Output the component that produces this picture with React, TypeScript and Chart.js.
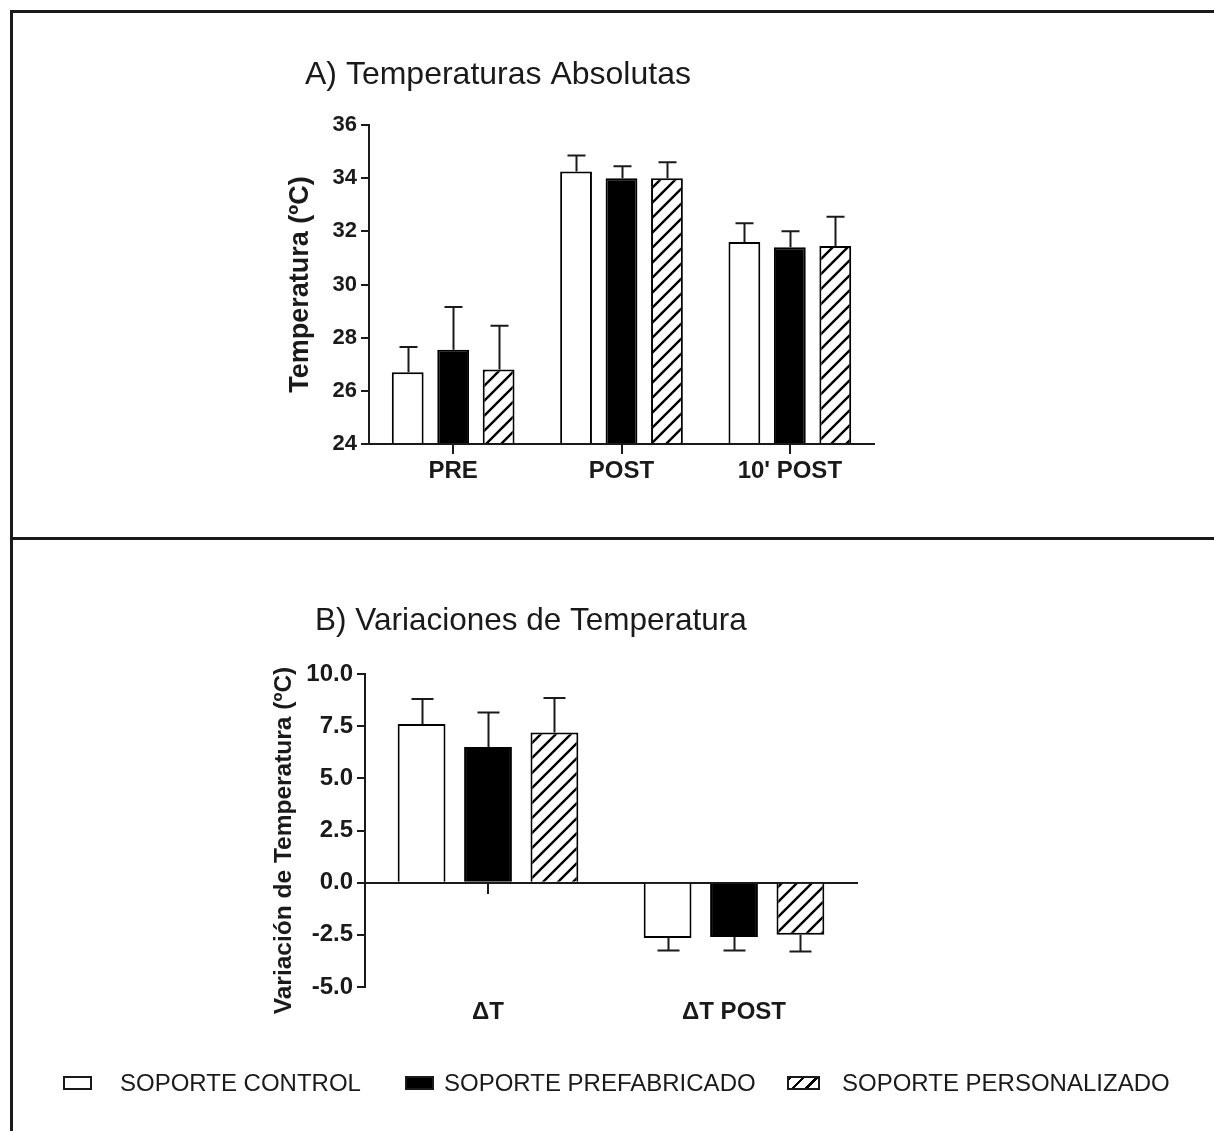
import React, { useEffect, useRef } from "react";
import { Chart, registerables } from "chart.js";
Chart.register(...registerables);

// ---------- Data ----------
const groupsA = ["PRE", "POST", "10' POST"];
const controlA = [26.7, 34.25, 31.6];
const controlA_sd = [0.95, 0.6, 0.7];
const prefabA = [27.55, 34.0, 31.4];
const prefabA_sd = [1.6, 0.45, 0.6];
const personalA = [26.8, 34.0, 31.45];
const personalA_sd = [1.65, 0.6, 1.1];
const yMinA = 24;
const yMaxA = 36;
const yStepA = 2;

const groupsB = ["\u0394T", "\u0394T POST"];
const controlB = [7.6, -2.65];
const controlB_sd = [1.2, 0.6];
const prefabB = [6.5, -2.6];
const prefabB_sd = [1.65, 0.65];
const personalB = [7.2, -2.5];
const personalB_sd = [1.65, 0.8];
const yMinB = -5;
const yMaxB = 10;
const yStepB = 2.5;

const seriesNames = ["SOPORTE CONTROL", "SOPORTE PREFABRICADO", "SOPORTE PERSONALIZADO"];

const titleA = "A) Temperaturas Absolutas";
const titleB = "B) Variaciones de Temperatura";
const yTitleA = "Temperatura (\u00BAC)";
const yTitleB = "Variaci\u00F3n de Temperatura (\u00BAC)";

// ---------- Styles ----------
const FONT = "Arial, 'Liberation Sans', Helvetica, sans-serif";
const INK = "#1a1a1a";

function makeHatch(): CanvasPattern | string {
  const s = 15;
  const c = document.createElement("canvas");
  c.width = s;
  c.height = s;
  const g = c.getContext("2d");
  if (!g) return "#fff";
  g.fillStyle = "#fff";
  g.fillRect(0, 0, s, s);
  g.strokeStyle = "#000";
  g.lineWidth = 2.4;
  g.beginPath();
  g.moveTo(-1, s + 1);
  g.lineTo(s + 1, -1);
  g.moveTo(-3, 3);
  g.lineTo(3, -3);
  g.moveTo(s - 3, s + 3);
  g.lineTo(s + 3, s - 3);
  g.stroke();
  const p = g.createPattern(c, "repeat");
  return p || "#fff";
}

const errorBarPlugin = {
  id: "errorBars",
  afterDatasetsDraw(chart: any, _args: any, opts: any) {
    const sds: number[][] = opts.sds || [];
    const ctx = chart.ctx;
    const yScale = chart.scales.y;
    ctx.save();
    ctx.strokeStyle = INK;
    ctx.lineWidth = 2;
    chart.data.datasets.forEach((ds: any, i: number) => {
      const meta = chart.getDatasetMeta(i);
      meta.data.forEach((el: any, j: number) => {
        const v = ds.data[j];
        const sd = (sds[i] || [])[j] || 0;
        const end = v >= 0 ? v + sd : v - sd;
        const y1 = yScale.getPixelForValue(v);
        const y2 = yScale.getPixelForValue(end);
        const x = Math.round(el.x) + 0.5;
        const cap = opts.cap || 10;
        ctx.beginPath();
        ctx.moveTo(x, y1);
        ctx.lineTo(x, y2);
        ctx.moveTo(x - cap, y2);
        ctx.lineTo(x + cap, y2);
        ctx.stroke();
      });
    });
    ctx.restore();
  },
};

const textPlugin = {
  id: "freeText",
  afterDraw(chart: any, _args: any, opts: any) {
    const ctx = chart.ctx;
    const area = chart.chartArea;
    (opts.items || []).forEach((it: any) => {
      ctx.save();
      ctx.fillStyle = INK;
      ctx.font = it.font;
      if (it.rotate) {
        const cy = (area.top + area.bottom) / 2 + (it.dy || 0);
        ctx.translate(it.x, cy);
        ctx.rotate(-Math.PI / 2);
        ctx.textAlign = "center";
        ctx.textBaseline = "middle";
        ctx.fillText(it.text, 0, 0);
      } else {
        ctx.textAlign = "left";
        ctx.textBaseline = "alphabetic";
        ctx.fillText(it.text, it.x, it.y);
      }
      ctx.restore();
    });
  },
};

function barDatasets(a: number[], b: number[], c: number[], hatch: any, barPct: number) {
  const common = {
    borderColor: "#000",
    borderWidth: 2,
    borderSkipped: "start",
    categoryPercentage: 0.81,
    barPercentage: barPct,
  };
  return [
    { label: seriesNames[0], data: a, backgroundColor: "#fff", ...common },
    { label: seriesNames[1], data: b, backgroundColor: "#000", ...common },
    { label: seriesNames[2], data: c, backgroundColor: hatch, ...common },
  ];
}

function ChartA() {
  const ref = useRef<HTMLCanvasElement>(null);
  useEffect(() => {
    if (!ref.current) return;
    const hatch = makeHatch();
    const datasets = barDatasets(controlA, prefabA, personalA, hatch, 0.7).map((d) => ({ ...d, base: yMinA }));
    const chart = new Chart(ref.current, {
      type: "bar",
      data: { labels: groupsA, datasets: datasets as any },
      plugins: [errorBarPlugin, textPlugin],
      options: {
        responsive: false,
        animation: false,
        devicePixelRatio: 1,
        layout: { padding: { left: 289, right: 340, top: 125, bottom: 48 } },
        plugins: {
          legend: { display: false },
          tooltip: { enabled: false },
          title: { display: false },
          errorBars: { sds: [controlA_sd, prefabA_sd, personalA_sd], cap: 9 },
          freeText: {
            items: [
              { text: titleA, x: 305, y: 84, font: `32px ${FONT}` },
              { text: yTitleA, x: 301, rotate: true, font: `bold 27px ${FONT}` },
            ],
          },
        } as any,
        scales: {
          x: {
            z: 1,
            offset: true,
            grid: { display: true, drawOnChartArea: false, offset: false, tickLength: 10, color: INK, lineWidth: 2 },
            border: { display: true, color: INK, width: 2 },
            ticks: { color: INK, padding: 3, font: { family: FONT, size: 24, weight: "bold" } },
            afterFit: (s: any) => { s.height = 45; },
          },
          y: {
            min: yMinA,
            max: yMaxA,
            ticks: { stepSize: yStepA, color: INK, padding: 4, font: { family: FONT, size: 22, weight: "bold" } },
            grid: { display: true, drawOnChartArea: false, tickLength: 8, color: INK, lineWidth: 2 },
            border: { display: true, color: INK, width: 2 },
            afterFit: (s: any) => { s.width = 80; },
          },
        } as any,
      },
    });
    return () => chart.destroy();
  }, []);
  return <canvas ref={ref} width={1214} height={537} style={{ position: "absolute", left: 0, top: 0, width: 1214, height: 537 }} />;
}

function ChartB() {
  const ref = useRef<HTMLCanvasElement>(null);
  useEffect(() => {
    if (!ref.current) return;
    const hatch = makeHatch();
    const datasets = barDatasets(controlB, prefabB, personalB, hatch, 0.72);
    const chart = new Chart(ref.current, {
      type: "bar",
      data: { labels: groupsB, datasets: datasets as any },
      plugins: [errorBarPlugin, textPlugin],
      options: {
        responsive: false,
        animation: false,
        devicePixelRatio: 1,
        layout: { padding: { left: 285, right: 357, top: 134, bottom: 99 } },
        plugins: {
          legend: { display: false },
          tooltip: { enabled: false },
          title: { display: false },
          errorBars: { sds: [controlB_sd, prefabB_sd, personalB_sd], cap: 11 },
          freeText: {
            items: [
              { text: titleB, x: 315, y: 90, font: `31.5px ${FONT}` },
              { text: yTitleB, x: 284, rotate: true, dy: 10, font: `bold 24.5px ${FONT}` },
            ],
          },
        } as any,
        scales: {
          x: {
            offset: true,
            grid: { display: false },
            border: { display: false },
            ticks: { color: INK, padding: 3, font: { family: FONT, size: 24, weight: "bold" } },
            afterFit: (s: any) => { s.height = 45; },
          },
          x2: {
            type: "category",
            axis: "x",
            z: 1,
            position: { y: 0 },
            offset: true,
            grid: { display: true, drawOnChartArea: false, offset: false, tickLength: 10, color: INK, lineWidth: 2 },
            border: { display: true, color: INK, width: 2 },
            ticks: { display: false },
          },
          y: {
            min: yMinB,
            max: yMaxB,
            ticks: {
              stepSize: yStepB,
              color: INK,
              padding: 4,
              font: { family: FONT, size: 24, weight: "bold" },
              callback: (v: any) => Number(v).toFixed(1),
            },
            grid: { display: true, drawOnChartArea: false, tickLength: 8, color: INK, lineWidth: 2 },
            border: { display: true, color: INK, width: 2 },
            afterFit: (s: any) => { s.width = 80; },
          },
        } as any,
      },
    });
    return () => chart.destroy();
  }, []);
  return <canvas ref={ref} width={1214} height={591} style={{ position: "absolute", left: 0, top: 540, width: 1214, height: 591 }} />;
}

function Legend() {
  const txt: React.CSSProperties = {
    position: "absolute",
    top: 1071,
    fontFamily: FONT,
    fontSize: 24,
    lineHeight: "24px",
    color: INK,
    whiteSpace: "nowrap",
  };
  const box: React.CSSProperties = { position: "absolute", top: 1076, height: 10, boxSizing: "content-box", border: `2px solid ${INK}` };
  return (
    <>
      <div style={{ ...box, left: 63, width: 25, background: "#fff" }} />
      <div style={{ ...txt, left: 120 }}>{seriesNames[0]}</div>
      <div style={{ ...box, left: 405, width: 25, background: "#000" }} />
      <div style={{ ...txt, left: 444 }}>{seriesNames[1]}</div>
      <div
        style={{
          ...box,
          left: 787,
          width: 29,
          background: "repeating-linear-gradient(-45deg, #fff 0px, #fff 7px, #000 7px, #000 9.5px)",
        }}
      />
      <div style={{ ...txt, left: 842 }}>{seriesNames[2]}</div>
    </>
  );
}

export default function App() {
  return (
    <div style={{ position: "absolute", left: 0, top: 0, width: 1214, height: 1131, background: "#fff", overflow: "hidden" }}>
      <div style={{ position: "absolute", left: 10, top: 10, width: 1210, height: 1130, borderTop: `3px solid ${INK}`, borderLeft: `3px solid ${INK}` }} />
      <div style={{ position: "absolute", left: 10, top: 537, width: 1210, height: 3, background: INK }} />
      <ChartA />
      <ChartB />
      <Legend />
    </div>
  );
}
